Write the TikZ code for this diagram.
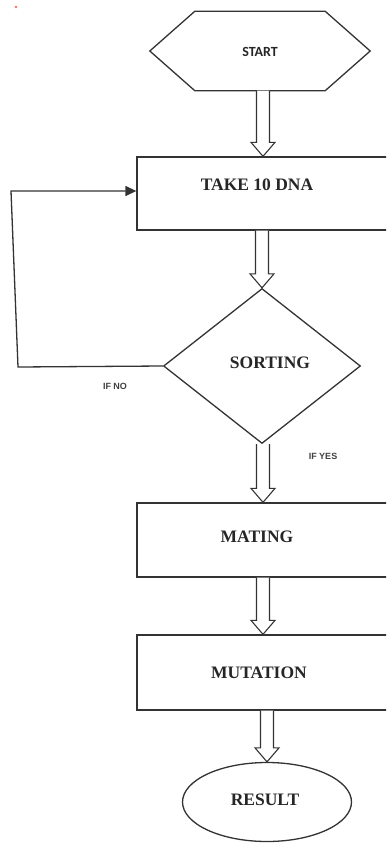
\documentclass[tikz,border=0pt]{standalone}
\usepackage{fontspec}
\setmainfont{Liberation Serif}
\newfontfamily\carlitofont{Carlito}
\newfontfamily\arialfont{Liberation Sans}
\usetikzlibrary{shapes.geometric,calc,arrows.meta}
\tikzset{
  ln/.style={draw=black!80, line width=1.3pt},
  boxnode/.style={ln, rectangle, minimum width=252pt, minimum height=74pt, inner sep=0pt},
  lbl/.style={font=\bfseries\fontsize{17.5}{20}\selectfont, text=black!85, inner sep=0pt},
  small/.style={font=\arialfont\bfseries\fontsize{9}{10}\selectfont, text=black!75, inner sep=0pt},
  harrow/.style={ln, fill=white, line width=1.1pt, line join=miter},
}
\newcommand\hollowarrow[2]{%
  \draw[harrow] let \p1=(#1.south), \p2=(#2.north) in
    (\x2-6.5pt,\y1) -- (\x2-6.5pt,\y2+14pt) -- (\x2-12pt,\y2+14pt) -- (\x2,\y2)
    -- (\x2+12pt,\y2+14pt) -- (\x2+6.5pt,\y2+14pt) -- (\x2+6.5pt,\y1);}
\begin{document}
\begin{tikzpicture}[x=1pt,y=-1pt]
\useasboundingbox (0,0) rectangle (386,843);
\clip (0,0) rectangle (386,843);
% red speck
\fill[red!60] (16,7) circle (1.3pt);
% START hexagon
\node[minimum width=220pt, minimum height=79pt, inner sep=0pt] (start) at (260,51) {};
\draw[ln, line join=miter] (start.west) -- ([xshift=45pt]start.north west) -- ([xshift=-45pt]start.north east)
  -- (start.east) -- ([xshift=-45pt]start.south east) -- ([xshift=45pt]start.south west) -- cycle;
\node[font=\carlitofont\bfseries\fontsize{14}{16}\selectfont, text=black!85, inner sep=0pt] (starttxt) at (260,52) {START};
% boxes
\node[boxnode, minimum height=73pt] (take) at (263,193.5) {};
\node[lbl] (taketxt) at (257,185) {TAKE 10 DNA};
\node[ln, diamond, minimum width=197pt, minimum height=155pt, inner sep=0pt] (sort) at (262,366) {};
\node[lbl] (sorttxt) at (270,363) {SORTING};
\node[boxnode] (mate) at (263,540) {};
\node[lbl] (matetxt) at (257,537) {MATING};
\node[boxnode, minimum height=75pt] (mut) at (263,672.5) {};
\node[lbl] (muttxt) at (259,673) {MUTATION};
\node[ln, ellipse, minimum width=169pt, minimum height=79pt, inner sep=0pt] (res) at (267,802) {};
\node[lbl] (restxt) at (265,800) {RESULT};
% labels
\node[small] (ifno) at (115,386) {IF NO};
\node[small] (ifyes) at (323,456) {IF YES};
% loop back
\coordinate (c1) at (18,367);
\coordinate (c2) at (11,191);
\draw[ln, -{Triangle[length=11pt,width=10pt]}] (sort.west) -- (c1) -- (c2) -- (c2 -| take.west);
% hollow arrows
\hollowarrow{start}{take}
\hollowarrow{take}{sort}
\hollowarrow{sort}{mate}
\hollowarrow{mate}{mut}
\hollowarrow{mut}{res}
\end{tikzpicture}
\end{document}
